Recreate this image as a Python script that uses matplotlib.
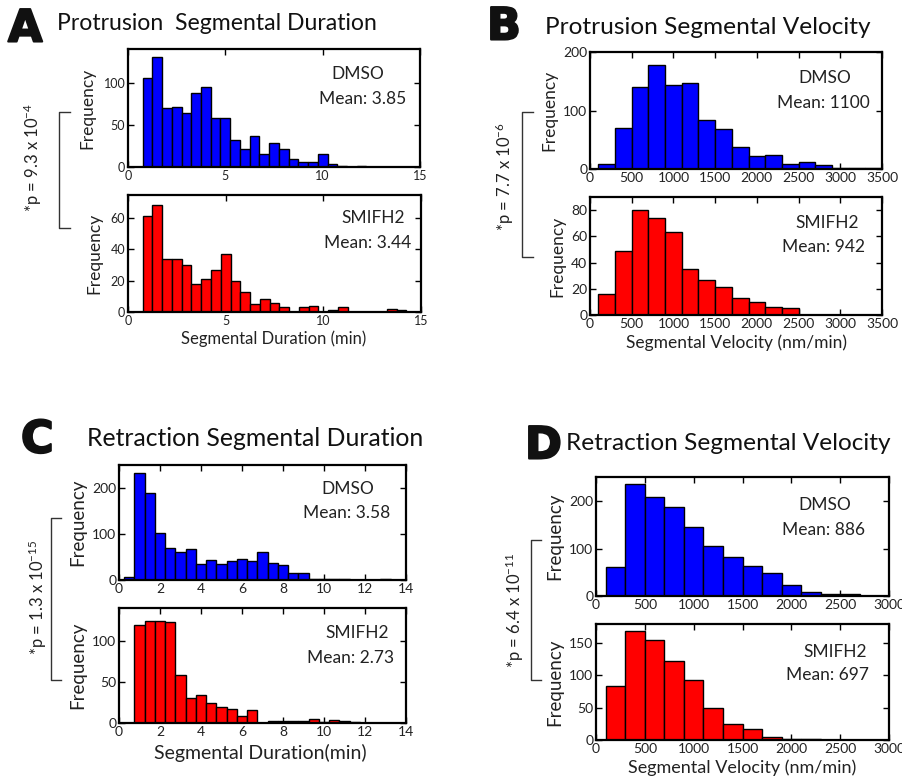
import matplotlib
matplotlib.use("Agg")
import matplotlib.pyplot as plt
from matplotlib.lines import Line2D
import matplotlib.patheffects as pe

W, H = 902, 781
plt.rcParams['font.family'] = ['Lato', 'DejaVu Sans']
plt.rcParams['mathtext.fontset'] = 'custom'
plt.rcParams['mathtext.rm'] = 'Lato'
plt.rcParams['mathtext.it'] = 'Lato:italic'

# ---------------- data ----------------
dur_bins_A = [1.0, 1.5, 2.0, 2.5, 3.0, 3.5, 4.0, 4.5, 5.0, 5.5, 6.0, 6.5, 7.0, 7.5,
              8.0, 8.5, 9.0, 9.5, 10.0, 10.5, 11.0, 11.5, 12.0, 12.5, 13.0, 13.5, 14.0]
A_dmso = [106, 131, 70, 72, 64, 89, 96, 59, 59, 32, 22, 37, 16, 29,
          22, 9, 6, 6, 15, 4, 1, 0, 1, 0, 0, 0, 0]
A_smifh2 = [61, 68, 34, 34, 30, 18, 21, 27, 37, 20, 13, 5, 8, 6,
            3, 0, 3, 4, 0, 1, 3, 0, 0, 0, 0, 2, 1]

vel_bins_B = [200, 400, 600, 800, 1000, 1200, 1400, 1600, 1800, 2000, 2200, 2400,
              2600, 2800, 3000, 3200, 3400]
B_dmso = [8, 70, 140, 178, 143, 147, 83, 68, 37, 22, 24, 8, 12, 6, 2, 1, 1]
B_smifh2 = [16, 49, 80, 74, 63, 35, 27, 21, 13, 10, 6, 5, 0, 0, 0, 0, 0]

dur_bins_C = [0.5, 1.0, 1.5, 2.0, 2.5, 3.0, 3.5, 4.0, 4.5, 5.0, 5.5, 6.0, 6.5, 7.0,
              7.5, 8.0, 8.5, 9.0, 9.5, 10.0, 10.5, 11.0, 11.5, 12.0, 12.5, 13.0]
C_dmso = [7, 233, 189, 102, 70, 61, 68, 36, 44, 36, 41, 45, 41, 62,
          38, 33, 16, 15, 3, 3, 3, 1.5, 0, 1, 1, 1.5]
C_smifh2 = [0, 119, 124, 124, 123, 58, 31, 34, 24, 19, 17, 9, 16, 0,
            2, 2, 2, 2, 5, 1, 4, 2, 1, 0, 0, 0]

vel_bins_D = [200, 400, 600, 800, 1000, 1200, 1400, 1600, 1800, 2000, 2200, 2400, 2600]
D_dmso = [61, 237, 208, 187, 145, 105, 83, 63, 49, 23, 9, 4, 4]
D_smifh2 = [83, 168, 155, 122, 92, 49, 24, 17, 5, 1, 2, 0, 0]

panel_titles = ["Protrusion  Segmental Duration", "Protrusion Segmental Velocity",
                "Retraction Segmental Duration", "Retraction Segmental Velocity"]
panel_letters = ["A", "B", "C", "D"]
means = {"A": ("3.85", "3.44"), "B": ("1100", "942"), "C": ("3.58", "2.73"), "D": ("886", "697")}
pvals = [r"*p = 9.3 x 10$^{-4}$", r"*p = 7.7 x 10$^{-6}$",
         r"*p = 1.3 x 10$^{-15}$", r"*p = 6.4 x 10$^{-11}$"]
xlabels = ["Segmental Duration (min)", "Segmental Velocity (nm/min)",
           "Segmental Duration(min)", "Segmental Velocity (nm/min)"]

fig = plt.figure(figsize=(W / 100, H / 100), dpi=100)


def add_ax(l, t, r, b):
    return fig.add_axes([l / W, 1 - b / H, (r - l) / W, (b - t) / H])


def ftext(x, y, s, **kw):
    return fig.text(x / W, 1 - y / H, s, **kw)


def style(ax, xlim, xticks, ylim, yticks, fs):
    ax.set_xlim(*xlim)
    ax.set_ylim(*ylim)
    ax.set_xticks(xticks)
    ax.set_yticks(yticks)
    ax.tick_params(direction='in', top=True, right=True, length=4, width=1,
                   labelsize=fs, pad=2, colors='black', labelcolor='#222222')
    for s in ax.spines.values():
        s.set_linewidth(1.6)
        s.set_color('black')


def hist(ax, bins, vals, width, color):
    ax.bar(bins, vals, width=width, color=color, edgecolor='black', linewidth=1.0,
           align='center', zorder=2)


def bracket(x, y0, y1, tick):
    fig.add_artist(Line2D([(x + tick) / W, x / W, x / W, (x + tick) / W],
                          [1 - y0 / H, 1 - y0 / H, 1 - y1 / H, 1 - y1 / H],
                          color='#333333', lw=1.0))


lab_kw = dict(fontsize=12.5, color='#222222')
ann_kw = dict(fontsize=12.5, color='#222222', ha='center', va='center')

# ---------------- Panel A ----------------
a1 = add_ax(128, 49, 420, 167)
hist(a1, dur_bins_A, A_dmso, 0.5, '#0000ff')
style(a1, (0, 15), [0, 5, 10, 15], (0, 141), [0, 50, 100], 9)
a1.set_ylabel("Frequency", **lab_kw, labelpad=6)
a2 = add_ax(128, 195, 421, 312)
hist(a2, dur_bins_A, A_smifh2, 0.5, '#ff0000')
style(a2, (0, 15), [0, 5, 10, 15], (0, 74.5), [0, 20, 40, 60], 9)
a2.set_ylabel("Frequency", **lab_kw, labelpad=6)
ftext(274, 339, xlabels[0], fontsize=12, color='#222222', ha='center', va='center')
ftext(358, 74, "DMSO", **ann_kw)
ftext(363, 99, "Mean: " + means["A"][0], **ann_kw)
ftext(373, 218, "SMIFH2", **ann_kw)
ftext(368, 243, "Mean: " + means["A"][1], **ann_kw)

# ---------------- Panel B ----------------
b1 = add_ax(590, 52, 882, 169)
hist(b1, vel_bins_B, B_dmso, 200, '#0000ff')
style(b1, (0, 3500), list(range(0, 3501, 500)), (0, 200), [0, 100, 200], 10)
b1.set_ylabel("Frequency", **lab_kw, labelpad=4)
b2 = add_ax(590, 197, 882, 315)
hist(b2, vel_bins_B, B_smifh2, 200, '#ff0000')
style(b2, (0, 3500), list(range(0, 3501, 500)), (0, 90), [0, 20, 40, 60, 80], 10)
b2.set_ylabel("Frequency", **lab_kw, labelpad=4)
ftext(736, 343, xlabels[1], fontsize=12.5, color='#222222', ha='center', va='center')
ftext(825, 78, "DMSO", **ann_kw)
ftext(823, 103, "Mean: " + means["B"][0], **ann_kw)
ftext(827, 223, "SMIFH2", **ann_kw)
ftext(823, 247, "Mean: " + means["B"][1], **ann_kw)

# ---------------- Panel C ----------------
c1 = add_ax(119, 465, 406, 580)
hist(c1, dur_bins_C, C_dmso, 0.5, '#0000ff')
style(c1, (0, 14), list(range(0, 15, 2)), (0, 251), [0, 100, 200], 10)
c1.set_ylabel("Frequency", fontsize=13.5, color='#222222', labelpad=4)
c2 = add_ax(119, 608, 406, 723)
hist(c2, dur_bins_C, C_smifh2, 0.5, '#ff0000')
style(c2, (0, 14), list(range(0, 15, 2)), (0, 140), [0, 50, 100], 10)
c2.set_ylabel("Frequency", fontsize=13.5, color='#222222', labelpad=4)
ftext(260, 753, xlabels[2], fontsize=14, color='#222222', ha='center', va='center')
ftext(348, 489, "DMSO", **ann_kw)
ftext(347, 513, "Mean: " + means["C"][0], **ann_kw)
ftext(357, 633, "SMIFH2", **ann_kw)
ftext(351, 658, "Mean: " + means["C"][1], **ann_kw)

# ---------------- Panel D ----------------
d1 = add_ax(596, 477, 889, 596)
hist(d1, vel_bins_D, D_dmso, 200, '#0000ff')
style(d1, (0, 3000), list(range(0, 3001, 500)), (0, 251), [0, 100, 200], 10)
d1.set_ylabel("Frequency", fontsize=13.5, color='#222222', labelpad=4)
d2 = add_ax(596, 624, 889, 740)
hist(d2, vel_bins_D, D_smifh2, 200, '#ff0000')
style(d2, (0, 3000), list(range(0, 3001, 500)), (0, 179), [0, 50, 100, 150], 10)
d2.set_ylabel("Frequency", fontsize=13.5, color='#222222', labelpad=4)
ftext(742, 768, xlabels[3], fontsize=13, color='#222222', ha='center', va='center')
ftext(825, 505, "DMSO", **ann_kw)
ftext(823, 530, "Mean: " + means["D"][0], **ann_kw)
ftext(835, 652, "SMIFH2", **ann_kw)
ftext(828, 675, "Mean: " + means["D"][1], **ann_kw)

# ---------------- titles, letters, p-values ----------------
letter_kw = dict(fontsize=32, fontweight='bold', family=['DejaVu Sans'],
                 color='#111111', va='center', ha='left')
stroke = [pe.withStroke(linewidth=1.5, foreground='#111111')]
title_kw = dict(color='#111111', va='center', ha='left')
ftext(8, 29, panel_letters[0], **letter_kw).set_path_effects(stroke)
ftext(57, 23, panel_titles[0], fontsize=16.6, **title_kw)
ftext(487, 27, panel_letters[1], **letter_kw).set_path_effects(stroke)
ftext(545, 28, panel_titles[1], fontsize=17.6, **title_kw)
ftext(21, 440, panel_letters[2], **letter_kw).set_path_effects(stroke)
ftext(87, 438, panel_titles[2], fontsize=17.8, **title_kw)
ftext(525, 446, panel_letters[3], **letter_kw).set_path_effects(stroke)
ftext(566, 443, panel_titles[3], fontsize=17.6, **title_kw)

p_kw = dict(fontsize=12, color='#222222', rotation=90, ha='center', va='center')
ftext(33, 157, pvals[0], **p_kw)
bracket(59, 112, 228, 11)
ftext(505, 177, pvals[1], **p_kw)
bracket(522, 112, 257, 11)
ftext(38, 597, pvals[2], **p_kw)
bracket(51, 518, 680, 10)
ftext(515, 610, pvals[3], **p_kw)
bracket(531, 540, 680, 10)

fig.savefig("out.png", dpi=100)
